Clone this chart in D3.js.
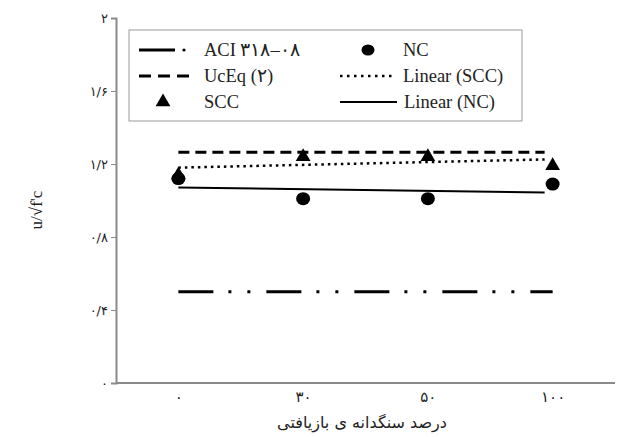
<!DOCTYPE html>
<html><head><meta charset="utf-8">
<script src="https://cdn.jsdelivr.net/npm/d3@7"></script>
<style>body{margin:0;background:#fff}svg{display:block}text{font-family:"Liberation Serif","DejaVu Serif",serif}</style>
</head><body>
<svg id="c" width="626" height="437"></svg>
<script>
const categories = ["۰", "۳۰", "۵۰", "۱۰۰"];
const sccValues = [1.14, 1.24, 1.24, 1.19];
const ncValues = [1.12, 1.01, 1.01, 1.09];
const aciValue = 0.5;
const ucEqValue = 1.265;
const yTicks = [0, 0.4, 0.8, 1.2, 1.6, 2];
const yTickLabels = ["۰", "۰/۴", "۰/۸", "۱/۲", "۱/۶", "۲"];
const legendLabels = ["ACI ۳۱۸–۰۸", "UcEq (۲)", "SCC", "NC", "Linear (SCC)", "Linear (NC)"];
const xTitle = "درصد سنگدانه ی بازیافتی";
const yTitle = "u/√f'c";

const svg = d3.select("#c");
const x = d3.scalePoint().domain(categories).range([116, 615]).padding(0.5);
const y = d3.scaleLinear().domain([0, 2]).range([383, 18]);
const axisCol = "#8a8a8a";

// axes
const ya = svg.append("g").attr("transform", "translate(116,0)")
  .call(d3.axisLeft(y).tickValues(yTicks).tickSize(5).tickFormat((d, i) => yTickLabels[i]));
ya.select(".domain").attr("stroke", axisCol).attr("stroke-width", 2);
ya.selectAll(".tick line").attr("stroke", axisCol);
ya.selectAll(".tick text").attr("fill", "#222").attr("x", -8).style("font-family", "'DejaVu Sans',sans-serif").attr("font-size", 13);

const xa = svg.append("g").attr("transform", "translate(0,383)")
  .call(d3.axisBottom(x).tickSize(0).tickSizeOuter(0));
xa.select(".domain").attr("stroke", axisCol).attr("stroke-width", 2).attr("d", "M116,0H615");
xa.selectAll(".tick text").attr("dy", 0).attr("y", 19).attr("fill", "#222").style("font-family", "'DejaVu Sans',sans-serif").attr("font-size", 15);

// regression helper (index-based like category trendline)
function fit(vals) {
  const n = vals.length, xs = vals.map((_, i) => i + 1);
  const mx = d3.mean(xs), my = d3.mean(vals);
  const b = d3.sum(xs.map((xi, i) => (xi - mx) * (vals[i] - my))) / d3.sum(xs.map(xi => (xi - mx) ** 2));
  const a = my - b * mx;
  return [a + b * 1, a + b * n];
}
const x0 = x(categories[0]), x1 = x(categories[categories.length - 1]);

// ACI line
svg.append("line").attr("x1", x0).attr("x2", x1).attr("y1", y(aciValue)).attr("y2", y(aciValue))
  .attr("stroke", "#000").attr("stroke-width", 3).attr("stroke-dasharray", "35,15,3,16,3,16");
// UcEq
svg.append("line").attr("x1", x0).attr("x2", x1 - 8).attr("y1", y(ucEqValue)).attr("y2", y(ucEqValue))
  .attr("stroke", "#000").attr("stroke-width", 3).attr("stroke-dasharray", "11,6");
// trend SCC
const fs = fit(sccValues);
svg.append("line").attr("x1", x0).attr("x2", x1 - 8).attr("y1", y(fs[0])).attr("y2", y(fs[1]))
  .attr("stroke", "#000").attr("stroke-width", 2.5).attr("stroke-dasharray", "2.5,4");
// trend NC
const fn = fit(ncValues);
svg.append("line").attr("x1", x0).attr("x2", x1 - 8).attr("y1", y(fn[0])).attr("y2", y(fn[1]))
  .attr("stroke", "#000").attr("stroke-width", 2);

// NC circles
svg.selectAll(".nc").data(ncValues).enter().append("ellipse")
  .attr("cx", (d, i) => x(categories[i])).attr("cy", d => y(d)).attr("rx", 7).attr("ry", 6.5).attr("fill", "#000");
// SCC triangles
const tri = d3.symbol().type(d3.symbolTriangle).size(95);
svg.selectAll(".scc").data(sccValues).enter().append("path")
  .attr("d", tri).attr("transform", (d, i) => `translate(${x(categories[i])},${y(d)})`).attr("fill", "#000");

// legend
svg.append("rect").attr("x", 129).attr("y", 30).attr("width", 393).attr("height", 91)
  .attr("fill", "#fff").attr("stroke", "#999").attr("stroke-width", 1);
const ly = [50, 76, 102];
const lg = svg.append("g");
lg.append("line").attr("x1", 139).attr("x2", 175).attr("y1", ly[0]).attr("y2", ly[0]).attr("stroke", "#000").attr("stroke-width", 3);
lg.append("circle").attr("cx", 184).attr("cy", ly[0]).attr("r", 1.6).attr("fill", "#000");
lg.append("line").attr("x1", 139).attr("x2", 190).attr("y1", ly[1]).attr("y2", ly[1]).attr("stroke", "#000").attr("stroke-width", 3).attr("stroke-dasharray", "12,7");
lg.append("path").attr("d", tri).attr("transform", `translate(163,${ly[2]})`).attr("fill", "#000");
lg.append("ellipse").attr("cx", 368).attr("cy", ly[0]).attr("rx", 6.5).attr("ry", 5.5).attr("fill", "#000");
lg.append("line").attr("x1", 340).attr("x2", 396).attr("y1", ly[1]).attr("y2", ly[1]).attr("stroke", "#000").attr("stroke-width", 2.5).attr("stroke-dasharray", "2.5,4.5");
lg.append("line").attr("x1", 340).attr("x2", 397).attr("y1", ly[2]).attr("y2", ly[2]).attr("stroke", "#000").attr("stroke-width", 2);
const lx = [204, 204, 204, 403, 403, 404];
const lyy = [ly[0], ly[1], ly[2], ly[0], ly[1], ly[2]];
legendLabels.forEach((t, i) => {
  lg.append("text").attr("x", lx[i]).attr("y", lyy[i]).attr("dy", "0.35em").attr("font-size", 18.5).attr("fill", "#222").text(t);
});

// titles
svg.append("text").attr("transform", "translate(42,210) rotate(-90)").attr("text-anchor", "middle")
  .attr("font-size", 17).attr("fill", "#222").text(yTitle);
svg.append("text").attr("x", 362).attr("y", 428).attr("text-anchor", "middle").attr("direction", "rtl")
  .style("font-family", "'DejaVu Sans',sans-serif").attr("font-size", 16).attr("fill", "#222").text(xTitle);
</script>
</body></html>
